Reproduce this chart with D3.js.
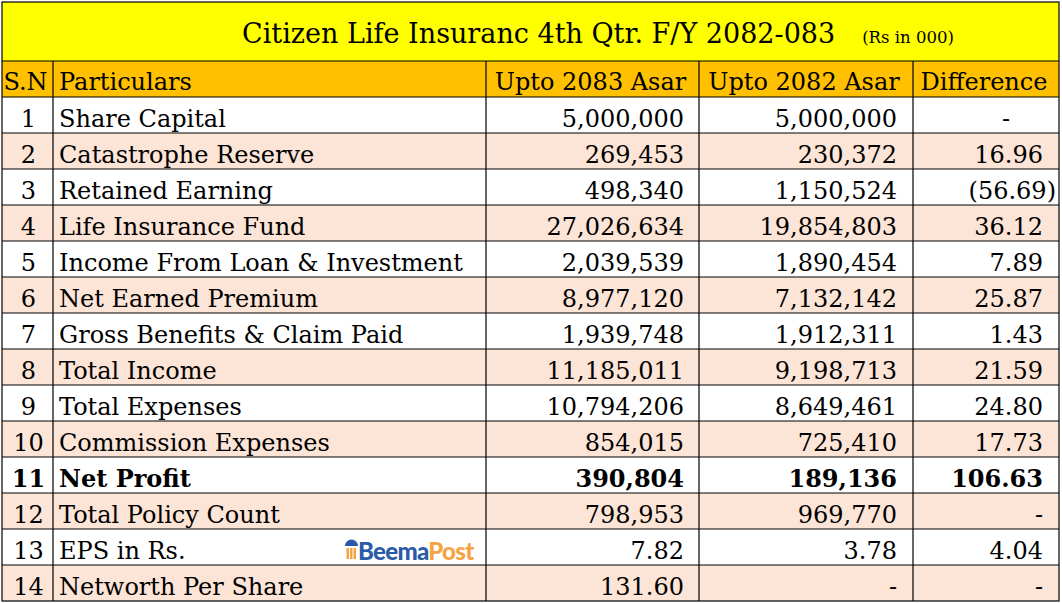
<!DOCTYPE html>
<html>
<head>
<meta charset="utf-8">
<script src="https://cdn.jsdelivr.net/npm/d3@7"></script>
<style>
  body { margin: 0; background: #fff; }
  svg { display: block; }
  .cell { font-family: "DejaVu Serif", serif; font-size: 24px; fill: #000; }
</style>
</head>
<body>
<div id="table"></div>
<script>
var svgWidth = 1062;
var svgHeight = 603;

// table data
var title = "Citizen Life Insuranc 4th Qtr. F/Y 2082-083";
var unitNote = "(Rs in 000)";
var headers = ["S.N", "Particulars", "Upto 2083 Asar", "Upto 2082 Asar", "Difference"];
var sn = [1, 2, 3, 4, 5, 6, 7, 8, 9, 10, 11, 12, 13, 14];
var particulars = [
  "Share Capital", "Catastrophe Reserve", "Retained Earning", "Life Insurance Fund",
  "Income From Loan & Investment", "Net Earned Premium", "Gross Benefits & Claim Paid",
  "Total Income", "Total Expenses", "Commission Expenses", "Net Profit",
  "Total Policy Count", "EPS in Rs.", "Networth Per Share"
];
var upto2083 = ["5,000,000", "269,453", "498,340", "27,026,634", "2,039,539", "8,977,120",
  "1,939,748", "11,185,011", "10,794,206", "854,015", "390,804", "798,953", "7.82", "131.60"];
var upto2082 = ["5,000,000", "230,372", "1,150,524", "19,854,803", "1,890,454", "7,132,142",
  "1,912,311", "9,198,713", "8,649,461", "725,410", "189,136", "969,770", "3.78", "-"];
var difference = [0, "16.96", "(56.69)", "36.12", "7.89", "25.87", "1.43", "21.59",
  "24.80", "17.73", "106.63", "-", "4.04", "-"];
var boldRows = [11];

// layout
var colEdges = [2, 53, 486, 699, 913, 1059];
var tableTop = 2, headTop = 61, bodyTop = 97, bodyBottom = 601;

var svg = d3.select("#table")
  .append("svg")
  .attr("width", svgWidth)
  .attr("height", svgHeight);

var y = d3.scaleBand()
  .domain(sn)
  .range([bodyTop, bodyBottom]);

var rows = sn.map(function(n, i) {
  return {
    sn: n,
    particular: particulars[i],
    a: upto2083[i],
    b: upto2082[i],
    diff: difference[i],
    bold: boldRows.indexOf(n) >= 0
  };
});

// backgrounds
svg.append("rect")
  .attr("x", colEdges[0]).attr("y", tableTop)
  .attr("width", colEdges[5] - colEdges[0]).attr("height", headTop - tableTop)
  .attr("fill", "#ffff00");

svg.append("rect")
  .attr("x", colEdges[0]).attr("y", headTop)
  .attr("width", colEdges[5] - colEdges[0]).attr("height", bodyTop - headTop)
  .attr("fill", "#ffc000");

svg.selectAll("rect.row").data(rows).enter()
  .append("rect")
  .attr("class", "row")
  .attr("x", colEdges[0])
  .attr("y", d => y(d.sn))
  .attr("width", colEdges[5] - colEdges[0])
  .attr("height", y.bandwidth())
  .attr("fill", (d, i) => i % 2 === 1 ? "#fce4d6" : "#ffffff");

// grid lines
var grid = svg.append("g").attr("stroke", "#000").attr("stroke-width", 1.2);

[headTop].concat(sn.map(d => y(d))).forEach(function(yy) {
  grid.append("line")
    .attr("x1", colEdges[0]).attr("x2", colEdges[5])
    .attr("y1", yy).attr("y2", yy);
});

colEdges.slice(1, 5).forEach(function(xx) {
  grid.append("line")
    .attr("x1", xx).attr("x2", xx)
    .attr("y1", headTop).attr("y2", bodyBottom);
});

grid.append("rect")
  .attr("x", colEdges[0]).attr("y", tableTop)
  .attr("width", colEdges[5] - colEdges[0]).attr("height", bodyBottom - tableTop)
  .attr("fill", "none");

// title
var titleText = svg.append("text")
  .attr("class", "cell")
  .attr("x", 242)
  .attr("y", 43)
  .style("font-size", "27px")
  .text(title);

titleText.append("tspan")
  .attr("dx", 27)
  .style("font-size", "16.5px")
  .text(unitNote);

// header labels
svg.selectAll("text.head").data(headers).enter()
  .append("text")
  .attr("class", "cell head")
  .attr("x", (d, i) => i === 1 ? colEdges[1] + 6 : (colEdges[i] + colEdges[i + 1]) / 2 - 2)
  .attr("y", headTop + 29)
  .attr("text-anchor", (d, i) => i === 1 ? "start" : "middle")
  .text(d => d);

// body cells
var rowG = svg.selectAll("g.rowtext").data(rows).enter()
  .append("g")
  .attr("class", "rowtext")
  .attr("transform", d => `translate(0, ${y(d.sn) + 30})`)
  .style("font-weight", d => d.bold ? "bold" : "normal");

rowG.append("text")
  .attr("class", "cell")
  .attr("x", (colEdges[0] + colEdges[1]) / 2 + 1)
  .attr("text-anchor", "middle")
  .text(d => d.sn);

rowG.append("text")
  .attr("class", "cell")
  .attr("x", colEdges[1] + 6)
  .text(d => d.particular);

rowG.append("text")
  .attr("class", "cell")
  .attr("x", colEdges[3] - 15)
  .attr("text-anchor", "end")
  .text(d => d.a);

rowG.append("text")
  .attr("class", "cell")
  .attr("x", colEdges[4] - 16)
  .attr("text-anchor", "end")
  .text(d => d.b);

rowG.append("text")
  .attr("class", "cell")
  .attr("x", function(d) {
    if (d.diff === 0) return colEdges[5] - 49;           // accounting zero
    if (String(d.diff).slice(-1) === ")") return colEdges[5] - 3;
    return colEdges[5] - 16;
  })
  .attr("text-anchor", "end")
  .text(d => d.diff === 0 ? "-" : d.diff);

// BeemaPost logo in row 13
var logoRow = y(13);
var logo = svg.append("g")
  .attr("transform", `translate(345, ${logoRow + 10})`);

logo.append("path")
  .attr("d", "M0,7 A6.5,6.5 0 0 1 13,7 Z")
  .attr("fill", "#2b5ba8");
logo.selectAll("rect").data([1.5, 5, 8.5]).enter()
  .append("rect")
  .attr("x", d => d)
  .attr("y", 9)
  .attr("width", 2.5)
  .attr("height", 11)
  .attr("fill", "#f5a343");

var logoText = logo.append("text")
  .attr("x", 13)
  .attr("y", 21)
  .style("font-family", "Lato, 'Open Sans', sans-serif")
  .style("font-weight", "900")
  .style("font-size", "24px")
  .style("letter-spacing", "-0.7px");
logoText.append("tspan").attr("fill", "#2b5ba8").text("Beema");
logoText.append("tspan").attr("fill", "#f5a343").text("Post");
</script>
</body>
</html>
